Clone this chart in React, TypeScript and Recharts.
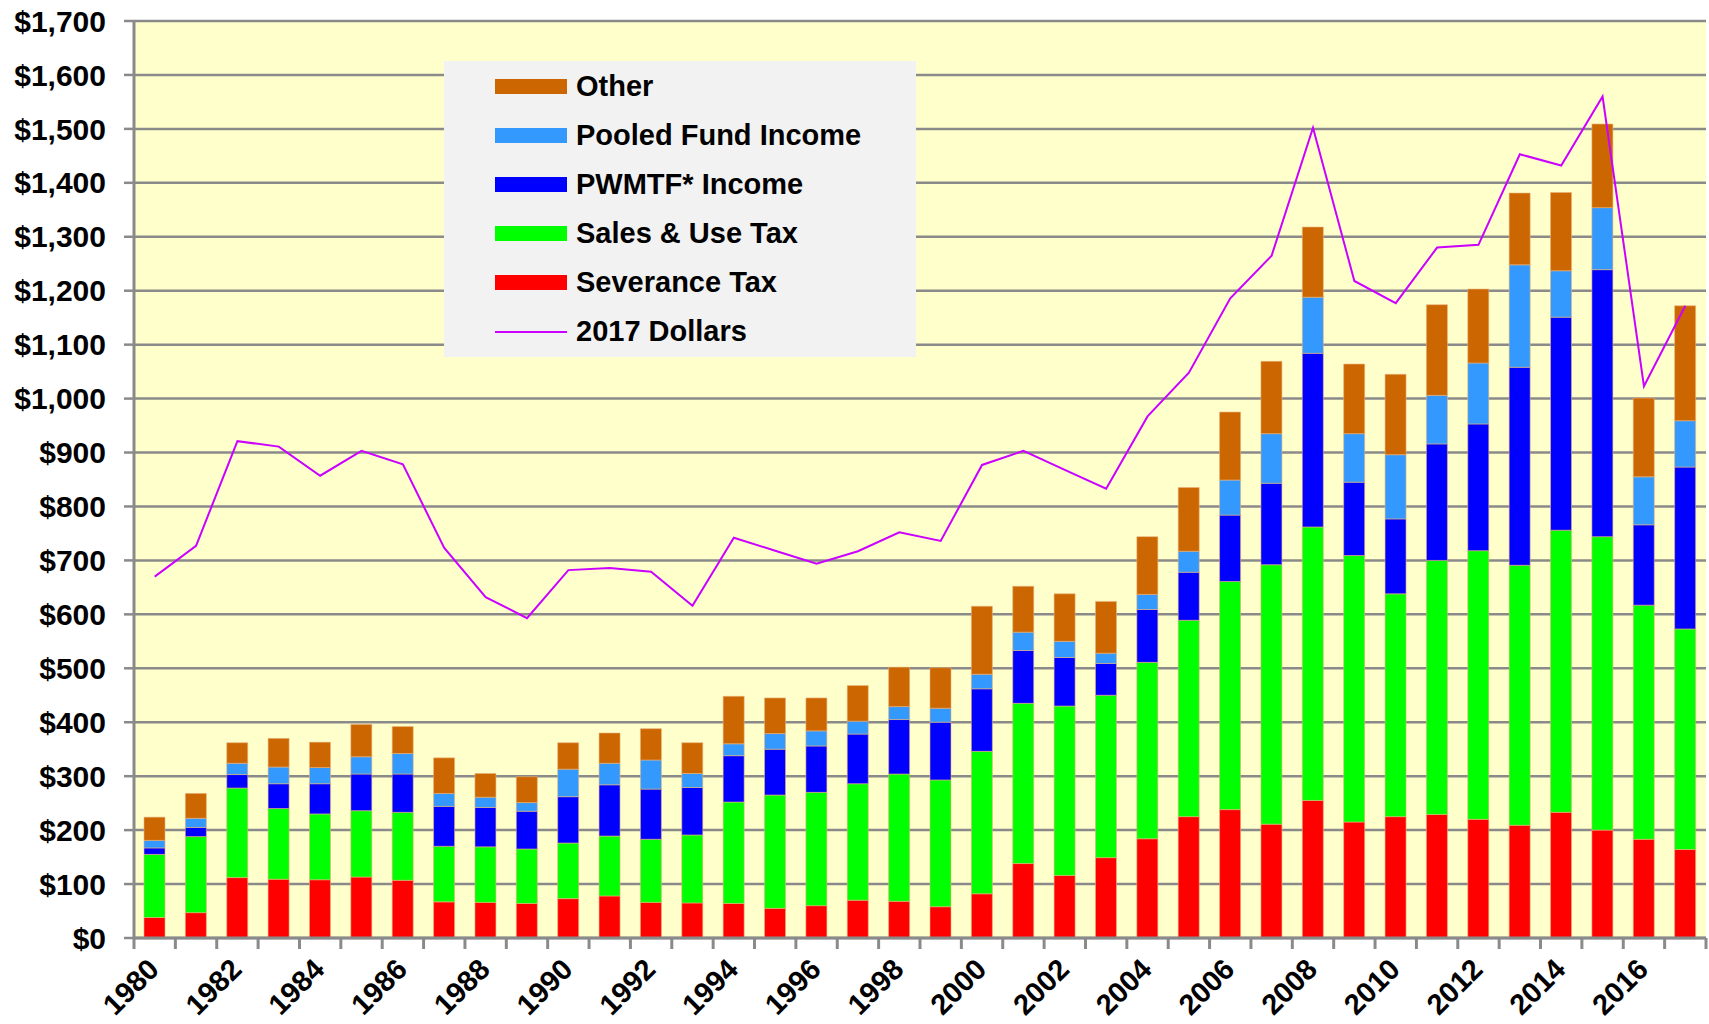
import React from "react";
import {
  ComposedChart,
  Bar,
  Line,
  XAxis,
  YAxis,
  CartesianGrid,
} from "recharts";

// values, $ millions
const years = [
  "1980", "1981", "1982", "1983", "1984", "1985", "1986", "1987", "1988", "1989",
  "1990", "1991", "1992", "1993", "1994", "1995", "1996", "1997", "1998", "1999",
  "2000", "2001", "2002", "2003", "2004", "2005", "2006", "2007", "2008", "2009",
  "2010", "2011", "2012", "2013", "2014", "2015", "2016", "2017",
];

const severanceTax = [
  38, 47, 112, 109, 108, 113, 107, 67, 66, 64, 73, 78, 66,
  65, 64, 55, 60, 70, 68, 58, 82, 138, 116, 149, 184, 225,
  238, 211, 255, 215, 225, 229, 220, 209, 233, 200, 183, 164,
];

const salesUseTax = [
  117, 141, 166, 131, 122, 123, 126, 103, 103, 101, 103, 111, 117,
  126, 188, 210, 210, 216, 236, 235, 264, 297, 314, 301, 327, 364,
  423, 481, 507, 494, 413, 471, 498, 482, 523, 544, 434, 409,
];

const pwmtfIncome = [
  12, 17, 25, 46, 56, 68, 71, 74, 73, 70, 86, 95, 93,
  88, 86, 85, 86, 92, 101, 107, 116, 98, 90, 59, 98, 89,
  123, 151, 322, 136, 139, 216, 235, 367, 395, 495, 149, 300,
];

const pooledFundIncome = [
  14, 17, 21, 31, 30, 32, 38, 24, 19, 16, 51, 40, 54,
  26, 22, 29, 28, 24, 24, 26, 27, 34, 30, 19, 28, 39,
  65, 92, 104, 90, 119, 90, 113, 190, 86, 115, 89, 86,
];

const other = [
  43, 46, 38, 53, 47, 60, 50, 66, 44, 48, 49, 56, 58,
  57, 88, 66, 61, 66, 73, 75, 126, 85, 88, 96, 107, 118,
  126, 134, 130, 129, 149, 168, 137, 133, 145, 155, 146, 213,
];

const dollars2017 = [
  670, 727, 921, 911, 857, 903, 878, 723, 632, 593, 682, 686, 679,
  616, 742, 718, 694, 717, 752, 736, 877, 903, 868, 833, 967, 1048,
  1186, 1265, 1502, 1218, 1177, 1280, 1285, 1453, 1432, 1560, 1023, 1172,
];

const yTicks = [
  0, 100, 200, 300, 400, 500, 600, 700, 800, 900,
  1000, 1100, 1200, 1300, 1400, 1500, 1600, 1700,
];

const data = years.map((year, i) => ({
  year,
  severance: severanceTax[i],
  sales: salesUseTax[i],
  pwmtf: pwmtfIncome[i],
  pooled: pooledFundIncome[i],
  other: other[i],
  real: dollars2017[i],
}));

const legendItems = [
  { name: "Other", color: "#CC6600", kind: "bar" },
  { name: "Pooled Fund Income", color: "#3399FF", kind: "bar" },
  { name: "PWMTF* Income", color: "#0000FF", kind: "bar" },
  { name: "Sales & Use Tax", color: "#00FF00", kind: "bar" },
  { name: "Severance Tax", color: "#FF0000", kind: "bar" },
  { name: "2017 Dollars", color: "#CC00FF", kind: "line" },
];

const FONT = '"Liberation Sans", Arial, sans-serif';
const WIDTH = 1709;
const HEIGHT = 1024;
const Y_AXIS_W = 134;
const RIGHT = 3;
const BAND = (WIDTH - Y_AXIS_W - RIGHT) / years.length;
const GRID = "#8a8a8a";

const YearTick = (props: any) => {
  const { x, y, payload } = props;
  const i = payload.index;
  const lx = x + 6;
  const ly = y + 33;
  return (
    <g>
      <line x1={x - BAND / 2} x2={x - BAND / 2} y1={y} y2={y + 11} stroke={GRID} strokeWidth={3} />
      {i === years.length - 1 && (
        <line x1={x + BAND / 2} x2={x + BAND / 2} y1={y} y2={y + 11} stroke={GRID} strokeWidth={3} />
      )}
      {i % 2 === 0 && (
        <text
          x={lx}
          y={ly}
          transform={`rotate(-45, ${lx}, ${ly})`}
          textAnchor="end"
          fontSize={29}
          fontWeight="bold"
          fontFamily={FONT}
          fill="#000"
        >
          {payload.value}
        </text>
      )}
    </g>
  );
};

const LegendBox = () => (
  <div
    style={{
      position: "absolute",
      left: 444,
      top: 61,
      background: "#F2F2F2",
      width: 472,
      height: 296,
      boxSizing: "border-box",
      paddingTop: 1,
      fontFamily: FONT,
      fontWeight: "bold",
      fontSize: 29,
      color: "#000",
    }}
  >
    {legendItems.map((item) => (
      <div
        key={item.name}
        style={{ display: "flex", alignItems: "center", height: 49, marginLeft: 51 }}
      >
        <div
          style={{
            width: 72,
            height: item.kind === "bar" ? 15 : 2,
            background: item.color,
            marginRight: 9,
          }}
        />
        <span>{item.name}</span>
      </div>
    ))}
  </div>
);

export default function App() {
  return (
    <div style={{ position: "relative", width: WIDTH, height: HEIGHT, background: "#fff" }}>
      <style>{"body{margin:0}"}</style>
      <ComposedChart
        width={WIDTH}
        height={HEIGHT}
        data={data}
        margin={{ top: 21, right: RIGHT, bottom: 0, left: 0 }}
      >
        <CartesianGrid
          vertical={false}
          stroke={GRID}
          strokeWidth={2.5}
          fill="#FFFFCC"
          fillOpacity={1}
        />
        <XAxis
          dataKey="year"
          height={86}
          interval={0}
          tickSize={0}
          tickMargin={0}
          tick={<YearTick />}
          axisLine={{ stroke: GRID, strokeWidth: 3 }}
        />
        <YAxis
          width={Y_AXIS_W}
          domain={[0, 1700]}
          ticks={yTicks}
          interval={0}
          tickSize={10}
          tickMargin={18}
          tickFormatter={(v: number) => "$" + v.toLocaleString("en-US")}
          tick={{ fontSize: 30, fontWeight: "bold", fontFamily: FONT, fill: "#000" }}
          tickLine={{ stroke: GRID, strokeWidth: 2.5 }}
          axisLine={{ stroke: GRID, strokeWidth: 3 }}
        />
        <Bar dataKey="severance" name="Severance Tax" stackId="a" fill="#FF0000" barSize={21} stroke="#E8B27A" strokeWidth={0.6} isAnimationActive={false} />
        <Bar dataKey="sales" name="Sales & Use Tax" stackId="a" fill="#00FF00" barSize={21} stroke="#E8B27A" strokeWidth={0.6} isAnimationActive={false} />
        <Bar dataKey="pwmtf" name="PWMTF* Income" stackId="a" fill="#0000FF" barSize={21} stroke="#E8B27A" strokeWidth={0.6} isAnimationActive={false} />
        <Bar dataKey="pooled" name="Pooled Fund Income" stackId="a" fill="#3399FF" barSize={21} stroke="#E8B27A" strokeWidth={0.6} isAnimationActive={false} />
        <Bar dataKey="other" name="Other" stackId="a" fill="#CC6600" barSize={21} stroke="#E8B27A" strokeWidth={0.6} isAnimationActive={false} />
        <Line
          dataKey="real"
          name="2017 Dollars"
          type="linear"
          stroke="#CC00FF"
          strokeWidth={2}
          dot={false}
          activeDot={false}
          isAnimationActive={false}
        />
      </ComposedChart>
      <LegendBox />
    </div>
  );
}
